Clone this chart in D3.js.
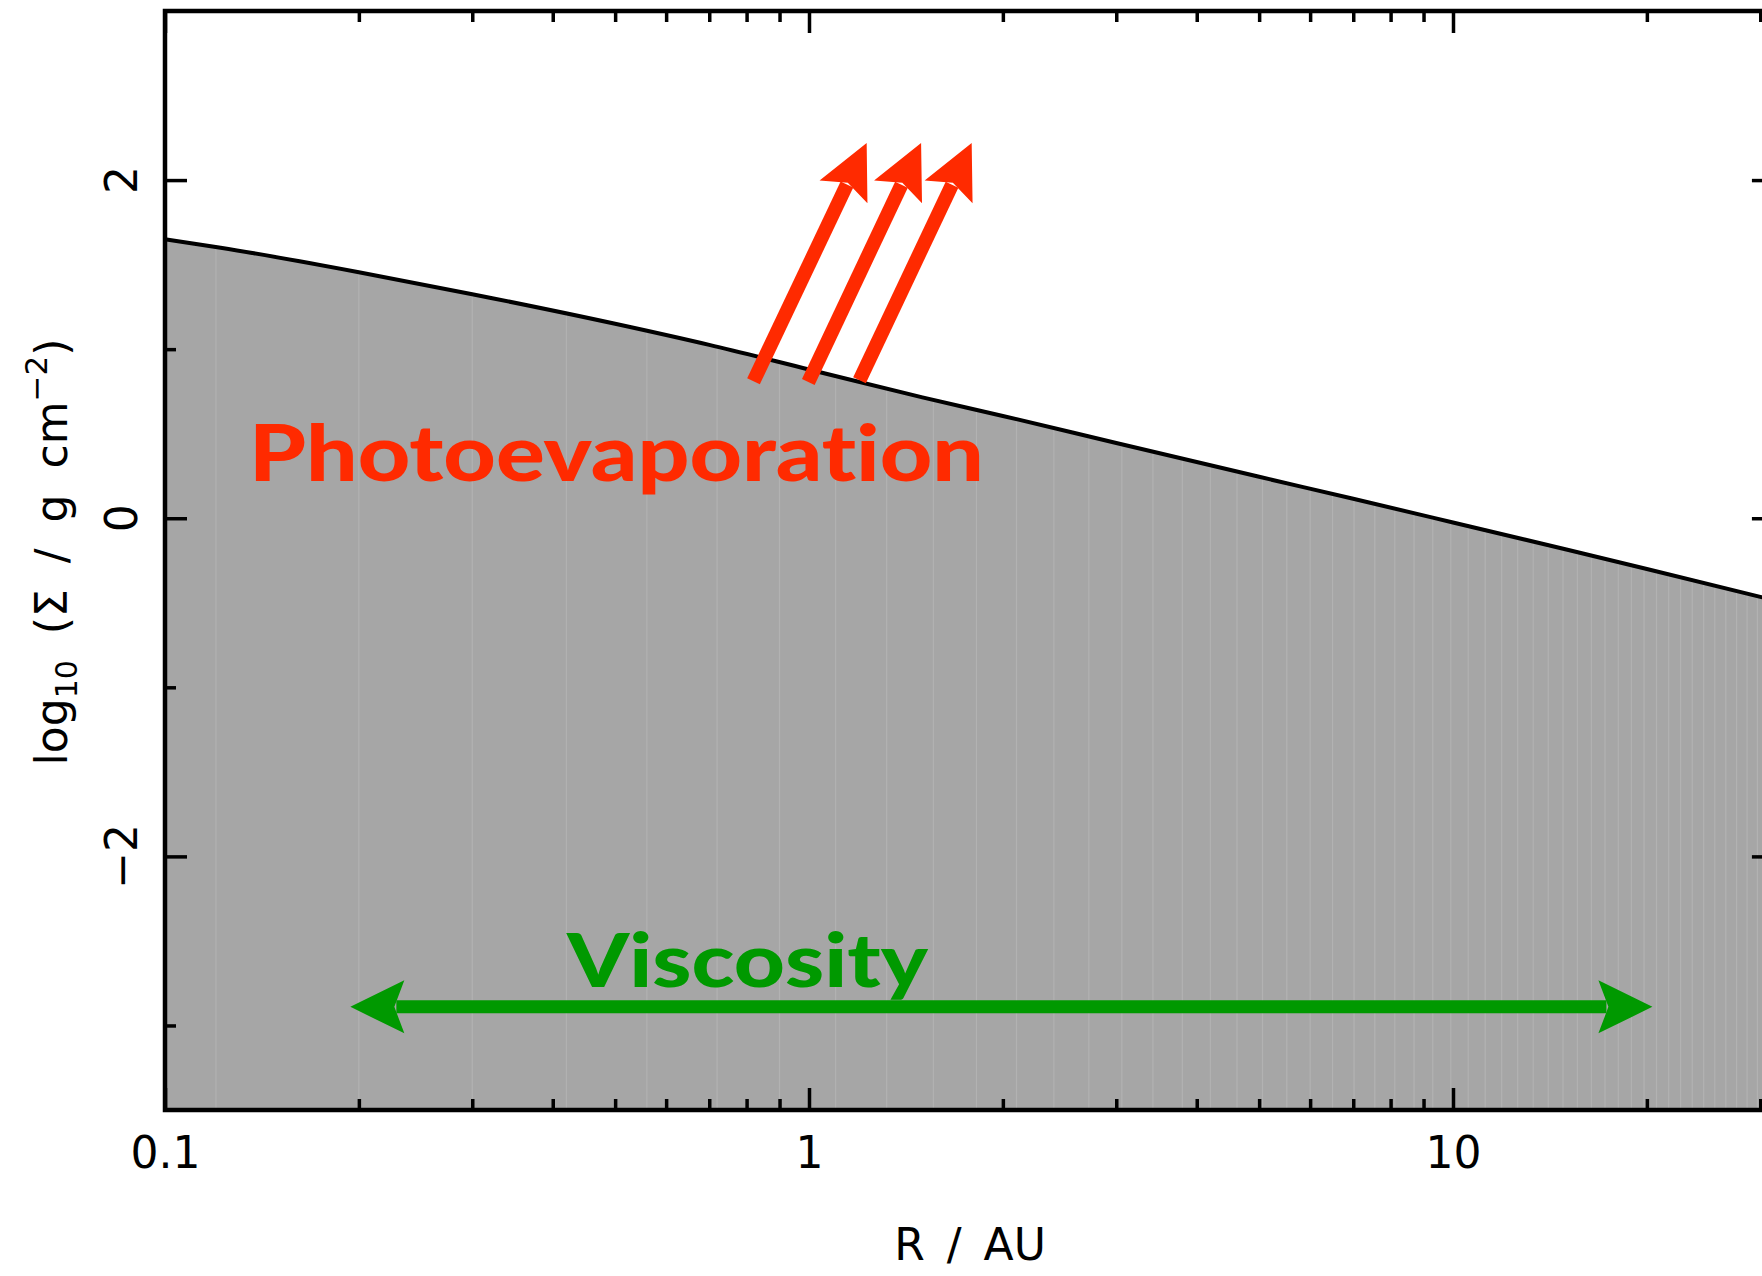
<!DOCTYPE html>
<html>
<head>
<meta charset="utf-8">
<script src="https://cdn.jsdelivr.net/npm/d3@7"></script>
<style>
  body { margin: 0; background: #fff; }
  svg { display: block; }
  .tick text { font-family: "DejaVu Sans", sans-serif; font-size: 44px; fill: #000; }
  .note { font-family: Lato, "Open Sans", sans-serif; font-weight: 900; font-variant-ligatures: none; font-feature-settings: "liga" 0, "clig" 0; }
</style>
</head>
<body>
<div id="chart"></div>
<script>
const width = 1762,
  height = 1276,
  margin = { left: 165, top: 11, bottom: 1110 },
  decade = 644;

// surface density profile (R in AU, log10 Sigma)
const radius = [0.1, 0.122, 0.2, 0.3, 0.5, 0.7, 1, 1.5, 2, 3, 5, 7, 10, 15, 20, 30, 31.5];
const logSigma = [1.65, 1.60, 1.455, 1.325, 1.15, 1.025, 0.88, 0.715, 0.605, 0.445, 0.245, 0.115, -0.025, -0.185, -0.30, -0.465, -0.485];

// radial grid cell edges that show faintly through the grey fill
const gridCells = [0.12, 0.20, 0.30, 0.42, 0.56, 0.72, 0.90, 1.10, 1.32, 1.56, 1.82, 2.10, 2.40, 2.72,
  3.06, 3.42, 3.80, 4.20, 4.62, 5.06, 5.52, 6.00, 6.50, 7.02, 7.56, 8.12, 8.70, 9.30, 9.92, 10.56,
  11.22, 11.90, 12.60, 13.32, 14.06, 14.82, 15.60, 16.40, 17.22, 18.06, 18.92, 19.80, 20.70, 21.62,
  22.56, 23.52, 24.50, 25.50, 26.52, 27.56, 28.62, 29.70, 30.80];

// ticks
const xMajor = [0.1, 1, 10];
const xMinor = [0.2, 0.3, 0.4, 0.5, 0.6, 0.7, 0.8, 0.9, 2, 3, 4, 5, 6, 7, 8, 9, 20, 30];
const yMajor = [-2, 0, 2];
const yMinor = [-3, -1, 1];

// annotation arrows, data coords [R, log Sigma]
const photoTails = [[0.82, 0.81], [0.9975, 0.806], [1.198, 0.816]];
const photoTips = [[1.229, 2.219], [1.493, 2.219], [1.789, 2.219]];
const viscosityEnds = [0.194, 20.4];
const viscosityLevel = -2.89;

const data = radius.map((r, i) => ({ r: r, v: logSigma[i] }));

const xMax = 31.5;
const x = d3.scaleLog()
  .domain([0.1, xMax])
  .range([margin.left, margin.left + decade * Math.log10(xMax / 0.1)]);
const y = d3.scaleLinear()
  .domain([-3.5, 3])
  .range([margin.bottom, margin.top]);

const svg = d3.select("#chart")
  .append("svg")
  .attr("width", width)
  .attr("height", height);

// inner edge kink is real, smooth the rest
const area = d3.area()
  .x(d => x(d.r))
  .y0(y(-3.5))
  .y1(d => y(d.v))
  .curve(d3.curveMonotoneX);

const line = d3.line()
  .x(d => x(d.r))
  .y(d => y(d.v))
  .curve(d3.curveMonotoneX);

svg.append("clipPath")
  .attr("id", "fillclip")
  .append("path")
  .attr("d", area(data));

svg.append("path")
  .attr("d", area(data))
  .attr("fill", "#a6a6a6");

// faint cell edges
svg.append("g")
  .attr("clip-path", "url(#fillclip)")
  .selectAll("line")
  .data(gridCells)
  .join("line")
  .attr("x1", d => x(d))
  .attr("x2", d => x(d))
  .attr("y1", y(3))
  .attr("y2", y(-3.5))
  .attr("stroke", "#b2b2b2")
  .attr("stroke-width", 1.2);

svg.append("path")
  .attr("d", line(data))
  .attr("fill", "none")
  .attr("stroke", "#000")
  .attr("stroke-width", 4)
  .attr("stroke-linejoin", "round");

// text annotations
svg.append("text")
  .attr("class", "note")
  .attr("x", 249)
  .attr("y", 481)
  .attr("textLength", 735)
  .attr("lengthAdjust", "spacingAndGlyphs")
  .style("font-size", "78px")
  .attr("fill", "#ff2a00")
  .text("Photoevaporation");

svg.append("text")
  .attr("class", "note")
  .attr("x", 567)
  .attr("y", 987)
  .attr("textLength", 361)
  .attr("lengthAdjust", "spacingAndGlyphs")
  .style("font-size", "75px")
  .attr("fill", "#009900")
  .text("Viscosity");

// arrow head helper, pixel space
function headPoints(tip, u) {
  const n = [-u[1], u[0]];
  const len = 54, notch = 44, half = 26.5;
  return [
    tip,
    [tip[0] - len * u[0] + half * n[0], tip[1] - len * u[1] + half * n[1]],
    [tip[0] - notch * u[0], tip[1] - notch * u[1]],
    [tip[0] - len * u[0] - half * n[0], tip[1] - len * u[1] - half * n[1]]
  ];
}

function drawArrow(g, a, b, color, width, twoHeads) {
  const dx = b[0] - a[0], dy = b[1] - a[1];
  const L = Math.hypot(dx, dy);
  const u = [dx / L, dy / L];
  const start = twoHeads ? [a[0] + 46 * u[0], a[1] + 46 * u[1]] : a;
  const end = [b[0] - 46 * u[0], b[1] - 46 * u[1]];
  g.append("line")
    .attr("x1", start[0]).attr("y1", start[1])
    .attr("x2", end[0]).attr("y2", end[1])
    .attr("stroke", color)
    .attr("stroke-width", width);
  g.append("polygon")
    .attr("points", headPoints(b, u).join(" "))
    .attr("fill", color);
  if (twoHeads) {
    g.append("polygon")
      .attr("points", headPoints(a, [-u[0], -u[1]]).join(" "))
      .attr("fill", color);
  }
}

const arrows = svg.append("g");
photoTails.forEach((t, i) => {
  const tip = photoTips[i];
  drawArrow(arrows, [x(t[0]), y(t[1])], [x(tip[0]), y(tip[1])], "#ff2a00", 14, false);
});
drawArrow(arrows,
  [x(viscosityEnds[0]), y(viscosityLevel)],
  [x(viscosityEnds[1]), y(viscosityLevel)],
  "#009900", 13, true);

// frame
svg.append("rect")
  .attr("x", x(0.1))
  .attr("y", y(3))
  .attr("width", x(xMax) - x(0.1))
  .attr("height", y(-3.5) - y(3))
  .attr("fill", "none")
  .attr("stroke", "#000")
  .attr("stroke-width", 4.5);

const fmtX = d3.format("~g");
const fmtY = d3.format("d");

function tickStyle(g) {
  g.select(".domain").remove();
  g.selectAll(".tick line").attr("stroke", "#000").attr("stroke-width", 3.5);
}

// bottom
svg.append("g")
  .attr("transform", `translate(0,${y(-3.5)})`)
  .call(d3.axisBottom(x).tickValues(xMajor).tickSize(-22).tickPadding(27).tickFormat(fmtX))
  .call(tickStyle);
svg.append("g")
  .attr("transform", `translate(0,${y(-3.5)})`)
  .call(d3.axisBottom(x).tickValues(xMinor).tickSize(-11).tickFormat(""))
  .call(tickStyle);

// top
svg.append("g")
  .attr("transform", `translate(0,${y(3)})`)
  .call(d3.axisTop(x).tickValues(xMajor).tickSize(-22).tickFormat(""))
  .call(tickStyle);
svg.append("g")
  .attr("transform", `translate(0,${y(3)})`)
  .call(d3.axisTop(x).tickValues(xMinor).tickSize(-11).tickFormat(""))
  .call(tickStyle);

// left and right
[[d3.axisLeft, x(0.1)], [d3.axisRight, x(xMax)]].forEach(([axisFn, pos]) => {
  svg.append("g")
    .attr("transform", `translate(${pos},0)`)
    .call(axisFn(y).tickValues(yMajor).tickSize(-22).tickFormat(""))
    .call(tickStyle);
  svg.append("g")
    .attr("transform", `translate(${pos},0)`)
    .call(axisFn(y).tickValues(yMinor).tickSize(-11).tickFormat(""))
    .call(tickStyle);
});

// rotated y tick labels
svg.append("g")
  .selectAll("text")
  .data(yMajor)
  .join("text")
  .attr("transform", d => `translate(137,${y(d)}) rotate(-90)`)
  .attr("text-anchor", "middle")
  .style("font-family", "DejaVu Sans, sans-serif")
  .style("font-size", "44px")
  .text(d => fmtY(d));

// axis titles
svg.append("text")
  .attr("x", 970)
  .attr("y", 1260)
  .attr("text-anchor", "middle")
  .style("font-family", "DejaVu Sans, sans-serif")
  .style("font-size", "44px")
  .style("word-spacing", "8px")
  .text("R / AU");

const ylab = svg.append("text")
  .attr("transform", "translate(67,552) rotate(-90)")
  .attr("text-anchor", "middle")
  .style("font-family", "DejaVu Sans, sans-serif")
  .style("font-size", "44px")
  .style("word-spacing", "12px");
ylab.append("tspan").text("log");
ylab.append("tspan").attr("dy", 10).style("font-size", "30px").text("10");
ylab.append("tspan").attr("dy", -10).text(" (Σ / g cm");
ylab.append("tspan").attr("dy", -20).style("font-size", "31px").text("−2");
ylab.append("tspan").attr("dy", 20).text(")");
</script>
</body>
</html>
